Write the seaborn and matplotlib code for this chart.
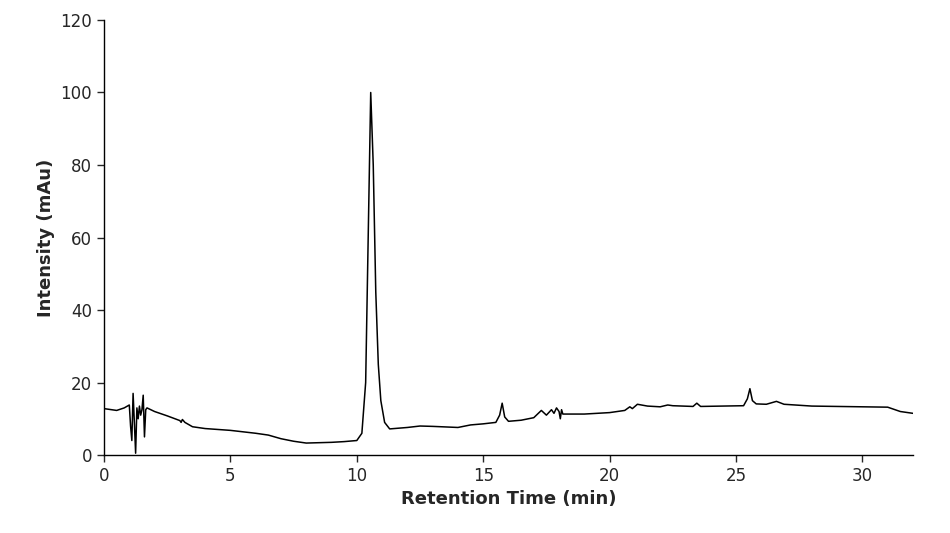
import matplotlib
matplotlib.use("Agg")
import matplotlib.pyplot as plt
import seaborn as sns
import pandas as pd

time_min = [0, 0.5, 0.8, 1.0, 1.05, 1.1, 1.15, 1.2, 1.25, 1.3, 1.35, 1.4, 1.45, 1.5, 1.55, 1.6, 1.65, 1.7,
            2.0, 2.5, 3.0, 3.05, 3.1, 3.2, 3.5, 4, 5, 6, 6.5, 7, 7.5, 8, 8.5, 9, 9.5, 10, 10.2, 10.35,
            10.45, 10.55, 10.65, 10.75, 10.85, 10.95, 11.1, 11.3, 12, 12.5, 13, 14, 14.5, 15, 15.5,
            15.65, 15.75, 15.85, 16, 16.5, 17, 17.3, 17.5, 17.7, 17.8, 17.9, 18, 18.05, 18.1, 18.15,
            19, 20, 20.6, 20.8, 20.9, 21.1, 21.5, 22, 22.3, 22.5, 23.3, 23.45, 23.6, 25.3, 25.45,
            25.55, 25.65, 25.8, 26.2, 26.6, 26.9, 28, 30, 31, 31.5, 32]
intensity = [12.8, 12.3, 13.0, 13.8, 8, 4, 17, 9, 0.5, 13, 10, 13.5, 11, 12.5, 16.5, 5, 12.5, 13,
             12, 10.8, 9.5, 9.0, 9.8, 9.0, 7.8, 7.3, 6.8, 6.0, 5.5, 4.5, 3.8, 3.3, 3.4, 3.5, 3.7, 4.0, 6, 20,
             60, 100, 80, 45, 25, 15, 9, 7.2, 7.6, 8, 7.9, 7.6, 8.3, 8.6, 9.0,
             11, 14.3, 10.5, 9.3, 9.6, 10.3, 12.3, 11, 12.5, 11.5, 13, 12, 10, 12.5, 11.3,
             11.3, 11.7, 12.3, 13.3, 12.8, 14, 13.5, 13.3, 13.8, 13.6, 13.4, 14.3, 13.4, 13.6, 15.5,
             18.3, 15, 14.1, 14, 14.8, 14, 13.5, 13.3, 13.2, 12, 11.5]

df = pd.DataFrame({"t": time_min, "y": intensity})

sns.set_style("white")
plt.rcParams['font.family'] = ['DejaVu Sans']
fig = plt.figure(figsize=(9.5, 5.33), dpi=100)
ax = fig.add_axes([0.1095, 0.1463, 0.8515, 0.8162])
sns.lineplot(data=df, x="t", y="y", ax=ax, color="black", linewidth=1.1)
ax.set_xlim(0, 32)
ax.set_ylim(0, 120)
ax.set_xticks([0, 5, 10, 15, 20, 25, 30])
ax.set_yticks(range(0, 121, 20))
ax.set_xlabel("Retention Time (min)", fontsize=13, fontweight="bold")
ax.set_ylabel("Intensity (mAu)", fontsize=13, fontweight="bold")
ax.tick_params(axis="both", labelsize=12, direction="out", length=5, width=1, bottom=True, left=True)
for s in ["top", "right"]:
    ax.spines[s].set_visible(False)
for s in ["left", "bottom"]:
    ax.spines[s].set_color("black")
    ax.spines[s].set_linewidth(1)
fig.savefig("out.png", dpi=100)
